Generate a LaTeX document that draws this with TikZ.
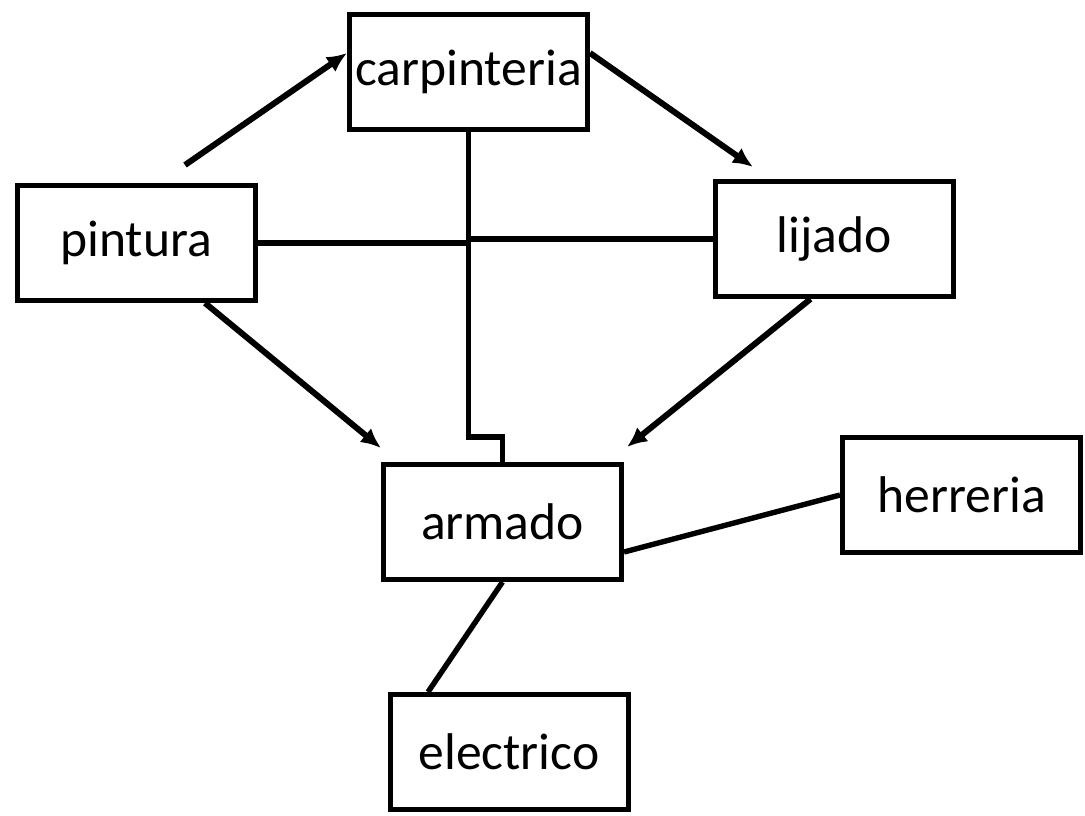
\documentclass[tikz,border=0pt]{standalone}
\usepackage{fontspec}
\setmainfont{Carlito}
\usetikzlibrary{arrows.meta,calc}
\begin{document}
\begin{tikzpicture}[x=0.5pt,y=-0.5pt,
    box/.style={draw,line width=2.5pt,minimum width=119pt,minimum height=57.5pt,
        inner sep=0pt,font=\fontsize{25.8}{31}\selectfont},
    link/.style={line width=2.7pt},
    flow/.style={line width=3pt,-{Latex[length=10pt,width=9pt]}}]
        \useasboundingbox (0,0) rectangle (1085,815);
        % talleres
        \node[box] (carp) at (468.5,72) {carpinteria};
        \node[box] (pin) at (136,243) {pintura};
        \node[box] (lij) at (834.5,239) {lijado};
        \node[box] (arm) at (502.5,522) {armado};
        \node[box] (her) at (961.5,495) {herreria};
        \node[box] (ele) at (509,752) {electrico};
        % extremos libres de las flechas
        \coordinate (pinfree) at (185,165);
        \coordinate (lijfree) at (753,167);
        % flechas
        \draw[flow] (pinfree) -- ($(carp.west)+(0,-19)$);
        \draw[flow] ($(carp.east)+(0,-19)$) -- (lijfree);
        \draw[flow] ($(pin.south)+(69,0)$) -- ($(arm.north west)+(0,-14)$);
        \draw[flow] ($(lij.south)+(-24,0)$) -- ($(arm.north east)+(3,-15)$);
        % lineas
        \draw[link] (carp.south) |- ($(arm.north)+(0,-25)$) -- (arm.north);
        \draw[link] (pin.east) -- (pin.east -| carp.south);
        \draw[link] (lij.west) -- (lij.west -| carp.south);
        \draw[link] ($(arm.east)+(0,30)$) -- (her.west);
        \draw[link] (arm.south) -- ($(ele.north)+(-81,0)$);
\end{tikzpicture}
\end{document}
